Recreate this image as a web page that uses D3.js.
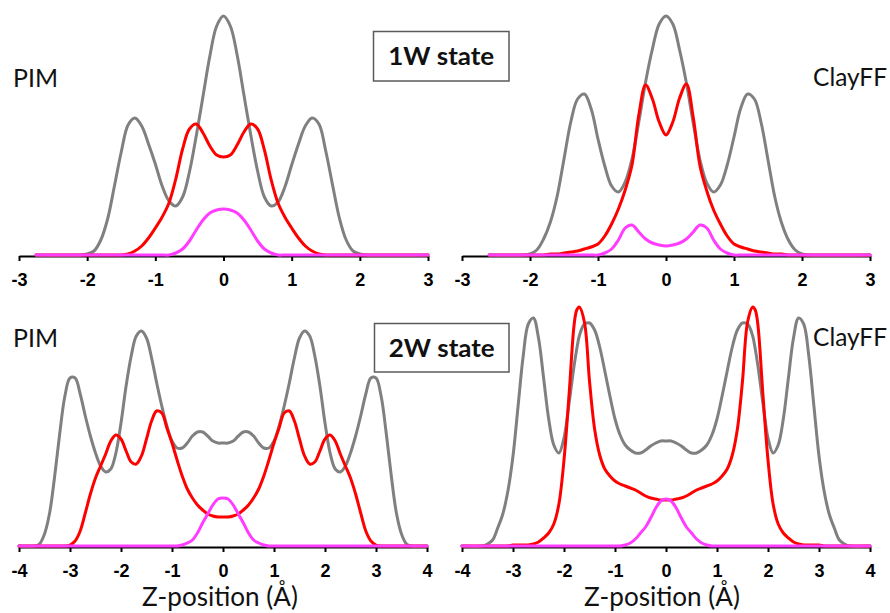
<!DOCTYPE html>
<html>
<head>
<meta charset="utf-8">
<script src="https://cdn.jsdelivr.net/npm/d3@7"></script>
<style>
body { margin: 0; background: #fff; }
svg { display: block; }
.axis path, .axis line { stroke: #000; stroke-width: 2px; }
.label { font-family: Lato, 'Open Sans', sans-serif; fill: #111; }
.curve { fill: none; stroke-width: 3px; stroke-linejoin: round; stroke-linecap: round; }
</style>
</head>
<body>
<svg id="chart" width="890" height="613"></svg>
<script>

// Z positions (Angstrom) and densities (a.u.)

var ticks1W = [-3, -2, -1, 0, 1, 2, 3];
var ticks2W = [-4, -3, -2, -1, 0, 1, 2, 3, 4];

var pimZ1W = [-2.75, -2.1, -2.0, -1.9, -1.8, -1.7, -1.6, -1.5, -1.4, -1.3, -1.2, -1.1, -1.0, -0.9, -0.8, -0.7, -0.6, -0.5, -0.4, -0.3, -0.2, -0.1,
    0, 0.1, 0.2, 0.3, 0.4, 0.5, 0.6, 0.7, 0.8, 0.9, 1.0, 1.1, 1.2, 1.3, 1.4, 1.5, 1.6, 1.7, 1.8, 1.9, 2.0, 2.1, 3.0];
var pimGray1W = [0, 0, 1, 4, 15, 36, 69, 103, 130, 137, 129, 111, 91, 69, 54, 49, 58, 83, 119, 159, 199, 229,
    239, 229, 200, 160, 120, 84, 58, 49, 53, 68, 90, 111, 129, 137, 131, 104, 70, 37, 15, 4, 1, 0, 0];
var pimRed1W = [0, 0, 0, 0, 0, 0, 0, 0, 1, 4, 9, 17, 27, 38, 52, 76, 106, 126, 131, 122, 109, 100,
    98, 100, 110, 123, 131, 126, 105, 75, 52, 38, 27, 17, 9, 4, 1, 0, 0, 0, 0, 0, 0, 0, 0];
var pimPink1W = [0, 0, 0, 0, 0, 0, 0, 0, 0, 0, 0, 0, 0, 0, 0, 2, 6, 14, 25, 35, 42, 45,
    46, 45, 42, 35, 25, 14, 6, 2, 0, 0, 0, 0, 0, 0, 0, 0, 0, 0, 0, 0, 0, 0, 0];

var clayZ1W = [-2.6, -2.1, -2.0, -1.9, -1.8, -1.7, -1.6, -1.5, -1.4, -1.3, -1.2, -1.1, -1.0, -0.9, -0.8, -0.7, -0.6, -0.5, -0.4, -0.3, -0.2, -0.1,
    0, 0.1, 0.2, 0.3, 0.4, 0.5, 0.6, 0.7, 0.8, 0.9, 1.0, 1.1, 1.2, 1.3, 1.4, 1.5, 1.6, 1.7, 1.8, 1.9, 2.0, 2.1, 3.0];
var clayGray1W = [0, 0, 1, 5, 16, 33, 59, 96, 133, 156, 161, 146, 116, 89, 69, 63, 73, 96, 133, 173, 206, 231,
    239, 231, 205, 172, 132, 95, 72, 63, 70, 90, 118, 147, 161, 156, 132, 95, 58, 32, 15, 5, 1, 0, 0];
var clayRed1W = [0, 0, 0, 0, 0, 1, 1, 2, 3, 4, 6, 8, 11, 19, 31, 46, 65, 90, 140, 170, 156, 133,
    120, 133, 157, 171, 138, 89, 64, 45, 31, 19, 11, 8, 6, 4, 3, 2, 1, 1, 0, 0, 0, 0, 0];
var clayPink1W = [0, 0, 0, 0, 0, 0, 0, 0, 0, 0, 0, 0, 0, 2, 6, 15, 27, 30, 23, 16, 12, 10,
    9, 10, 12, 16, 23, 30, 27, 15, 6, 2, 0, 0, 0, 0, 0, 0, 0, 0, 0, 0, 0, 0, 0];

var pimZ2W = [-4.0, -3.7, -3.6, -3.5, -3.4, -3.3, -3.2, -3.1, -3.0, -2.9, -2.8, -2.7, -2.6, -2.5, -2.4, -2.3, -2.2, -2.1, -2.0,
    -1.9, -1.8, -1.7, -1.6, -1.5, -1.4, -1.3, -1.2, -1.1, -1.0, -0.9, -0.8, -0.7, -0.6, -0.5, -0.4, -0.3, -0.2, -0.1,
    0, 0.1, 0.2, 0.3, 0.4, 0.5, 0.6, 0.7, 0.8, 0.9, 1.0, 1.1, 1.2, 1.3, 1.4, 1.5, 1.6, 1.7, 1.8, 1.9,
    2.0, 2.1, 2.2, 2.3, 2.4, 2.5, 2.6, 2.7, 2.8, 2.9, 3.0, 3.1, 3.2, 3.3, 3.4, 3.5, 3.6, 3.7, 4.0];
var pimGray2W = [0, 0, 2, 12, 33, 70, 113, 150, 168, 168, 152, 130, 110, 93, 80, 74, 77, 93, 123,
    160, 190, 210, 215, 208, 188, 163, 140, 120, 105, 98, 98, 103, 110, 114, 114, 110, 105, 103,
    103, 103, 105, 110, 114, 114, 110, 103, 98, 98, 105, 120, 140, 163, 188, 208, 215, 210, 190, 160,
    123, 93, 77, 74, 80, 93, 110, 130, 152, 168, 168, 150, 113, 70, 33, 12, 2, 0, 0];
var pimRed2W = [0, 0, 0, 0, 0, 0, 0, 0, 1, 5, 15, 33, 52, 68, 80, 92, 105, 111, 107,
    95, 84, 82, 90, 107, 125, 135, 133, 118, 103, 86, 70, 57, 48, 41, 36, 32, 30, 29,
    29, 29, 30, 32, 36, 41, 48, 57, 70, 86, 103, 118, 133, 135, 125, 107, 90, 82, 84, 95,
    107, 111, 105, 92, 80, 68, 52, 33, 15, 5, 1, 0, 0, 0, 0, 0, 0, 0, 0];
var pimPink2W = [0, 0, 0, 0, 0, 0, 0, 0, 0, 0, 0, 0, 0, 0, 0, 0, 0, 0, 0,
    0, 0, 0, 0, 0, 0, 0, 0, 0, 0, 0, 1, 3, 6, 13, 23, 32, 41, 47,
    48, 47, 41, 32, 23, 13, 6, 3, 1, 0, 0, 0, 0, 0, 0, 0, 0, 0, 0, 0,
    0, 0, 0, 0, 0, 0, 0, 0, 0, 0, 0, 0, 0, 0, 0, 0, 0, 0, 0];

var clayZ2W = [-4.0, -3.6, -3.5, -3.4, -3.3, -3.2, -3.1, -3.0, -2.9, -2.8, -2.7, -2.6, -2.5, -2.4, -2.3, -2.2, -2.1, -2.0, -1.9, -1.8,
    -1.75, -1.7, -1.6, -1.5, -1.4, -1.3, -1.2, -1.1, -1.0, -0.9, -0.8, -0.7, -0.6, -0.5, -0.4, -0.3, -0.2, -0.1,
    0, 0.1, 0.2, 0.3, 0.4, 0.5, 0.6, 0.7, 0.8, 0.9, 1.0, 1.1, 1.2, 1.3, 1.4, 1.5, 1.6, 1.7, 1.75,
    1.8, 1.9, 2.0, 2.1, 2.2, 2.3, 2.4, 2.5, 2.6, 2.7, 2.8, 2.9, 3.0, 3.1, 3.2, 3.3, 3.4, 3.5, 3.6, 4.0];
var clayGray2W = [0, 0, 2, 6, 18, 32, 55, 90, 140, 190, 222, 228, 208, 168, 127, 101, 93, 108, 143, 181,
    197, 210, 222, 223, 216, 199, 175, 150, 127, 111, 101, 96, 93, 93, 96, 100, 103, 105,
    105, 105, 103, 100, 96, 93, 93, 96, 101, 111, 127, 150, 175, 199, 216, 223, 222, 210, 197,
    181, 143, 108, 93, 101, 127, 168, 208, 228, 222, 190, 140, 90, 55, 32, 18, 6, 2, 0, 0];
var clayRed2W = [0, 0, 0, 0, 0, 0, 0, 1, 1, 1, 1, 2, 4, 8, 13, 22, 42, 86, 152, 222,
    236, 239, 224, 165, 117, 91, 77, 70, 65, 62, 60, 58, 56, 53, 50, 48, 47, 46,
    46, 46, 47, 48, 50, 53, 56, 58, 60, 62, 65, 70, 77, 91, 117, 165, 224, 239, 236,
    222, 152, 86, 42, 22, 13, 8, 4, 2, 1, 1, 1, 1, 0, 0, 0, 0, 0, 0, 0];
var clayPink2W = [0, 0, 0, 0, 0, 0, 0, 0, 0, 0, 0, 0, 0, 0, 0, 0, 0, 0, 0, 0,
    0, 0, 0, 0, 0, 0, 0, 0, 0, 0, 1, 3, 7, 13, 19, 28, 38, 45,
    47, 45, 38, 28, 19, 13, 7, 3, 1, 0, 0, 0, 0, 0, 0, 0, 0, 0, 0,
    0, 0, 0, 0, 0, 0, 0, 0, 0, 0, 0, 0, 0, 0, 0, 0, 0, 0, 0, 0];

var colors = {
    'gray': '#808080',
    'red': '#ff0000',
    'pink': '#ff3cff'
};

var panels = [
    {z: pimZ1W, gray: pimGray1W, red: pimRed1W, pink: pimPink1W, ticks: ticks1W,
     left: 19, right: 428, base: 255},
    {z: clayZ1W, gray: clayGray1W, red: clayRed1W, pink: clayPink1W, ticks: ticks1W,
     left: 462, right: 870, base: 255},
    {z: pimZ2W, gray: pimGray2W, red: pimRed2W, pink: pimPink2W, ticks: ticks2W,
     left: 19, right: 427, base: 546},
    {z: clayZ2W, gray: clayGray2W, red: clayRed2W, pink: clayPink2W, ticks: ticks2W,
     left: 462, right: 870, base: 546}
];

var svg = d3.select('#chart');

var draw_panel = function(p) {
    var ticks = p.ticks;
    var x = d3.scaleLinear()
        .domain([ticks[0], ticks[ticks.length - 1]])
        .range([p.left, p.right]);
    var y = d3.scaleLinear()
        .domain([0, 240])
        .range([p.base, p.base - 240]);

    var axis = d3.axisBottom(x)
        .tickValues(ticks)
        .tickSize(5)
        .tickSizeOuter(0)
        .tickPadding(12)
        .tickFormat(function(d) { return String(d); });

    var g = svg.append('g')
        .attr('class', 'axis')
        .attr('transform', 'translate(0,' + (p.base + 1) + ')')
        .call(axis);

    g.selectAll('text')
        .style('font-family', "'Liberation Sans', Arial, sans-serif")
        .style('font-weight', 'bold')
        .style('font-size', '18px')
        .style('fill', '#000');

    var line = d3.line()
        .x(function(d) { return x(d[0]); })
        .y(function(d) { return y(d[1]); })
        .curve(d3.curveCatmullRom.alpha(0.5));

    ['gray', 'red', 'pink'].forEach(function(key) {
        svg.append('path')
            .attr('class', 'curve')
            .attr('d', line(d3.zip(p.z, p[key])))
            .style('stroke', colors[key]);
    });
};

panels.forEach(draw_panel);

// text is stretched to the width it has in the figure
var add_text = function(x, y, text, size, anchor, weight, width) {
    var t = svg.append('text')
        .attr('class', 'label')
        .attr('x', 0)
        .attr('y', 0)
        .attr('text-anchor', anchor)
        .style('font-size', size + 'px')
        .style('font-weight', weight || 'normal')
        .text(text);
    var sx = 1;
    if (width) {
        var w = t.node().getBBox().width;
        if (w > 0) sx = width / w;
    }
    t.attr('transform', 'translate(' + x + ',' + y + ') scale(' + sx + ',1)');
};

add_text(13, 87, 'PIM', 25, 'start', 'normal', 45);
add_text(887, 86, 'ClayFF', 25, 'end', 'normal', 74);
add_text(13, 347, 'PIM', 25, 'start', 'normal', 45);
add_text(887, 346, 'ClayFF', 25, 'end', 'normal', 74);

var add_box = function(x0, y0, x1, y1, text, baseline) {
    svg.append('rect')
        .attr('x', x0)
        .attr('y', y0)
        .attr('width', x1 - x0)
        .attr('height', y1 - y0)
        .style('fill', '#fff')
        .style('stroke', '#5a5a5a')
        .style('stroke-width', 1.5);
    add_text((x0 + x1) / 2, baseline, text, 25, 'middle', 'bold', 106);
};

add_box(373.5, 31.5, 509, 81, '1W state', 65);
add_box(374.5, 323.5, 509, 372, '2W state', 357);

add_text(220, 606, 'Z-position (\u00c5)', 26, 'middle', 'normal', 156);
add_text(662, 606, 'Z-position (\u00c5)', 26, 'middle', 'normal', 156);

</script>
</body>
</html>
